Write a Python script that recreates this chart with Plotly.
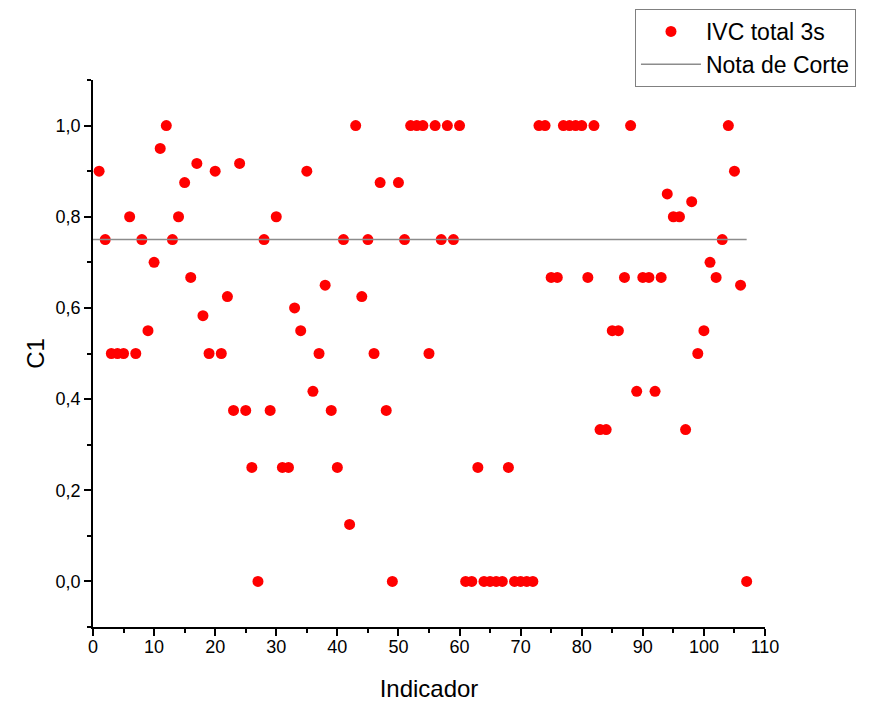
import plotly.graph_objects as go

indicador = list(range(1, 108))
c1 = [
    0.9, 0.75, 0.5, 0.5, 0.5, 0.8, 0.5, 0.75, 0.55, 0.7,
    0.95, 1.0, 0.75, 0.8, 0.875, 0.667, 0.917, 0.583, 0.5, 0.9,
    0.5, 0.625, 0.375, 0.917, 0.375, 0.25, 0.0, 0.75, 0.375, 0.8,
    0.25, 0.25, 0.6, 0.55, 0.9, 0.417, 0.5, 0.65, 0.375, 0.25,
    0.75, 0.125, 1.0, 0.625, 0.75, 0.5, 0.875, 0.375, 0.0, 0.875,
    0.75, 1.0, 1.0, 1.0, 0.5, 1.0, 0.75, 1.0, 0.75, 1.0,
    0.0, 0.0, 0.25, 0.0, 0.0, 0.0, 0.0, 0.25, 0.0, 0.0,
    0.0, 0.0, 1.0, 1.0, 0.667, 0.667, 1.0, 1.0, 1.0, 1.0,
    0.667, 1.0, 0.333, 0.333, 0.55, 0.55, 0.667, 1.0, 0.417, 0.667,
    0.667, 0.417, 0.667, 0.85, 0.8, 0.8, 0.333, 0.833, 0.5, 0.55,
    0.7, 0.667, 0.75, 1.0, 0.9, 0.65, 0.0,
]
corte_x = [0, 107]
corte_y = [0.75, 0.75]

font = "Liberation Sans, Arial, sans-serif"

fig = go.Figure()
fig.add_trace(go.Scatter(
    x=indicador, y=c1, mode="markers", name="IVC total 3s",
    marker=dict(color="#ff0000", size=11, line=dict(width=0)),
))
fig.add_trace(go.Scatter(
    x=corte_x, y=corte_y, mode="lines", name="Nota de Corte",
    line=dict(color="#8c8c8c", width=1.5),
))

fig.update_layout(
    width=864, height=696,
    margin=dict(l=85, r=107, t=72, b=77, autoexpand=False),
    paper_bgcolor="white", plot_bgcolor="white",
    separators=",.",
    font=dict(family=font, color="black"),
    showlegend=True,
    legend=dict(
        x=0.8065, y=1.1298, xanchor="left", yanchor="top",
        bordercolor="#808080", borderwidth=1,
        font=dict(size=23, family=font),
        bgcolor="white", itemwidth=60,
        tracegroupgap=0,
    ),
    xaxis=dict(
        range=[0, 110], dtick=10, tick0=0, automargin=False,
        showgrid=False, zeroline=False,
        showline=True, linecolor="black", linewidth=1.5,
        ticks="outside", ticklen=7, tickwidth=1.5, tickcolor="black",
        minor=dict(dtick=5, ticks="outside", ticklen=4, tickwidth=1.5, tickcolor="black"),
        tickfont=dict(size=18, family=font),
        ticklabelstandoff=-4,
        title=dict(text="Indicador", font=dict(size=24, family=font), standoff=24),
    ),
    yaxis=dict(
        range=[-0.1, 1.1], dtick=0.2, tick0=0, tickformat=".1f", automargin=False,
        showgrid=False, zeroline=False,
        showline=True, linecolor="black", linewidth=1.5,
        ticks="outside", ticklen=7, tickwidth=1.5, tickcolor="black",
        minor=dict(dtick=0.1, ticks="outside", ticklen=4, tickwidth=1.5, tickcolor="black"),
        tickfont=dict(size=18, family=font),
        title=dict(text="C1", font=dict(size=24, family=font), standoff=4),
    ),
)

fig.write_html("out.html")
